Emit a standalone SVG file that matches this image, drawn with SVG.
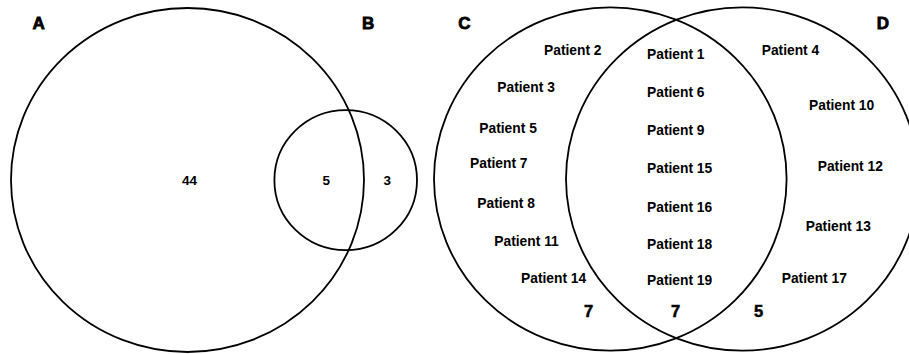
<svg xmlns="http://www.w3.org/2000/svg" width="909" height="354" viewBox="0 0 909 354">
<style>
.c{fill:none;stroke:#000;stroke-width:1.8}
text{font-family:"Liberation Sans",Arial,sans-serif;font-weight:bold;fill:#000}
.big{font-size:17px;stroke:#000;stroke-width:0.8}
.p{font-size:13.8px}
.n{font-size:13.5px}
.k{font-size:16.5px;stroke:#000;stroke-width:0.5}
</style>
<rect width="909" height="354" fill="#fff"/>
<g id="setA"><ellipse class="c" cx="187.5" cy="180" rx="176.5" ry="172"/><text class="big" x="32.5" y="29">A</text><text class="n" x="182" y="184.5">44</text></g>
<g id="setB"><ellipse class="c" cx="345.7" cy="180.2" rx="71.3" ry="70"/><text class="big" x="362" y="29">B</text><text class="n" x="322.5" y="184.5">5</text><text class="n" x="383.5" y="184.5">3</text></g>
<g id="setC"><ellipse class="c" cx="610.3" cy="179" rx="176.3" ry="171.7"/><text class="big" x="458.3" y="28.5">C</text>
<text class="p" x="544" y="55">Patient 2</text>
<text class="p" x="497.3" y="91.7">Patient 3</text>
<text class="p" x="479.3" y="132.7">Patient 5</text>
<text class="p" x="470" y="167.7">Patient 7</text>
<text class="p" x="477.3" y="208.3">Patient 8</text>
<text class="p" x="494.3" y="246">Patient 11</text>
<text class="p" x="521" y="282.7">Patient 14</text>
<text class="k" x="584" y="317.3">7</text>
</g>
<g id="setD"><ellipse class="c" cx="742.3" cy="179" rx="176.3" ry="171.7"/><text class="big" x="876.7" y="28.5">D</text>
<text class="p" x="761.7" y="55">Patient 4</text>
<text class="p" x="809" y="110">Patient 10</text>
<text class="p" x="817.7" y="170.7">Patient 12</text>
<text class="p" x="805.7" y="230.7">Patient 13</text>
<text class="p" x="781.7" y="283.3">Patient 17</text>
<text class="k" x="754" y="317.3">5</text>
</g>
<g id="overlapCD">
<text class="p" x="647" y="59.3">Patient 1</text>
<text class="p" x="647" y="96.7">Patient 6</text>
<text class="p" x="647" y="135">Patient 9</text>
<text class="p" x="647" y="172.7">Patient 15</text>
<text class="p" x="647" y="211.7">Patient 16</text>
<text class="p" x="647" y="249.3">Patient 18</text>
<text class="p" x="647" y="285">Patient 19</text>
<text class="k" x="671" y="317.3">7</text>
</g>
<g id="connectors"/>
</svg>
